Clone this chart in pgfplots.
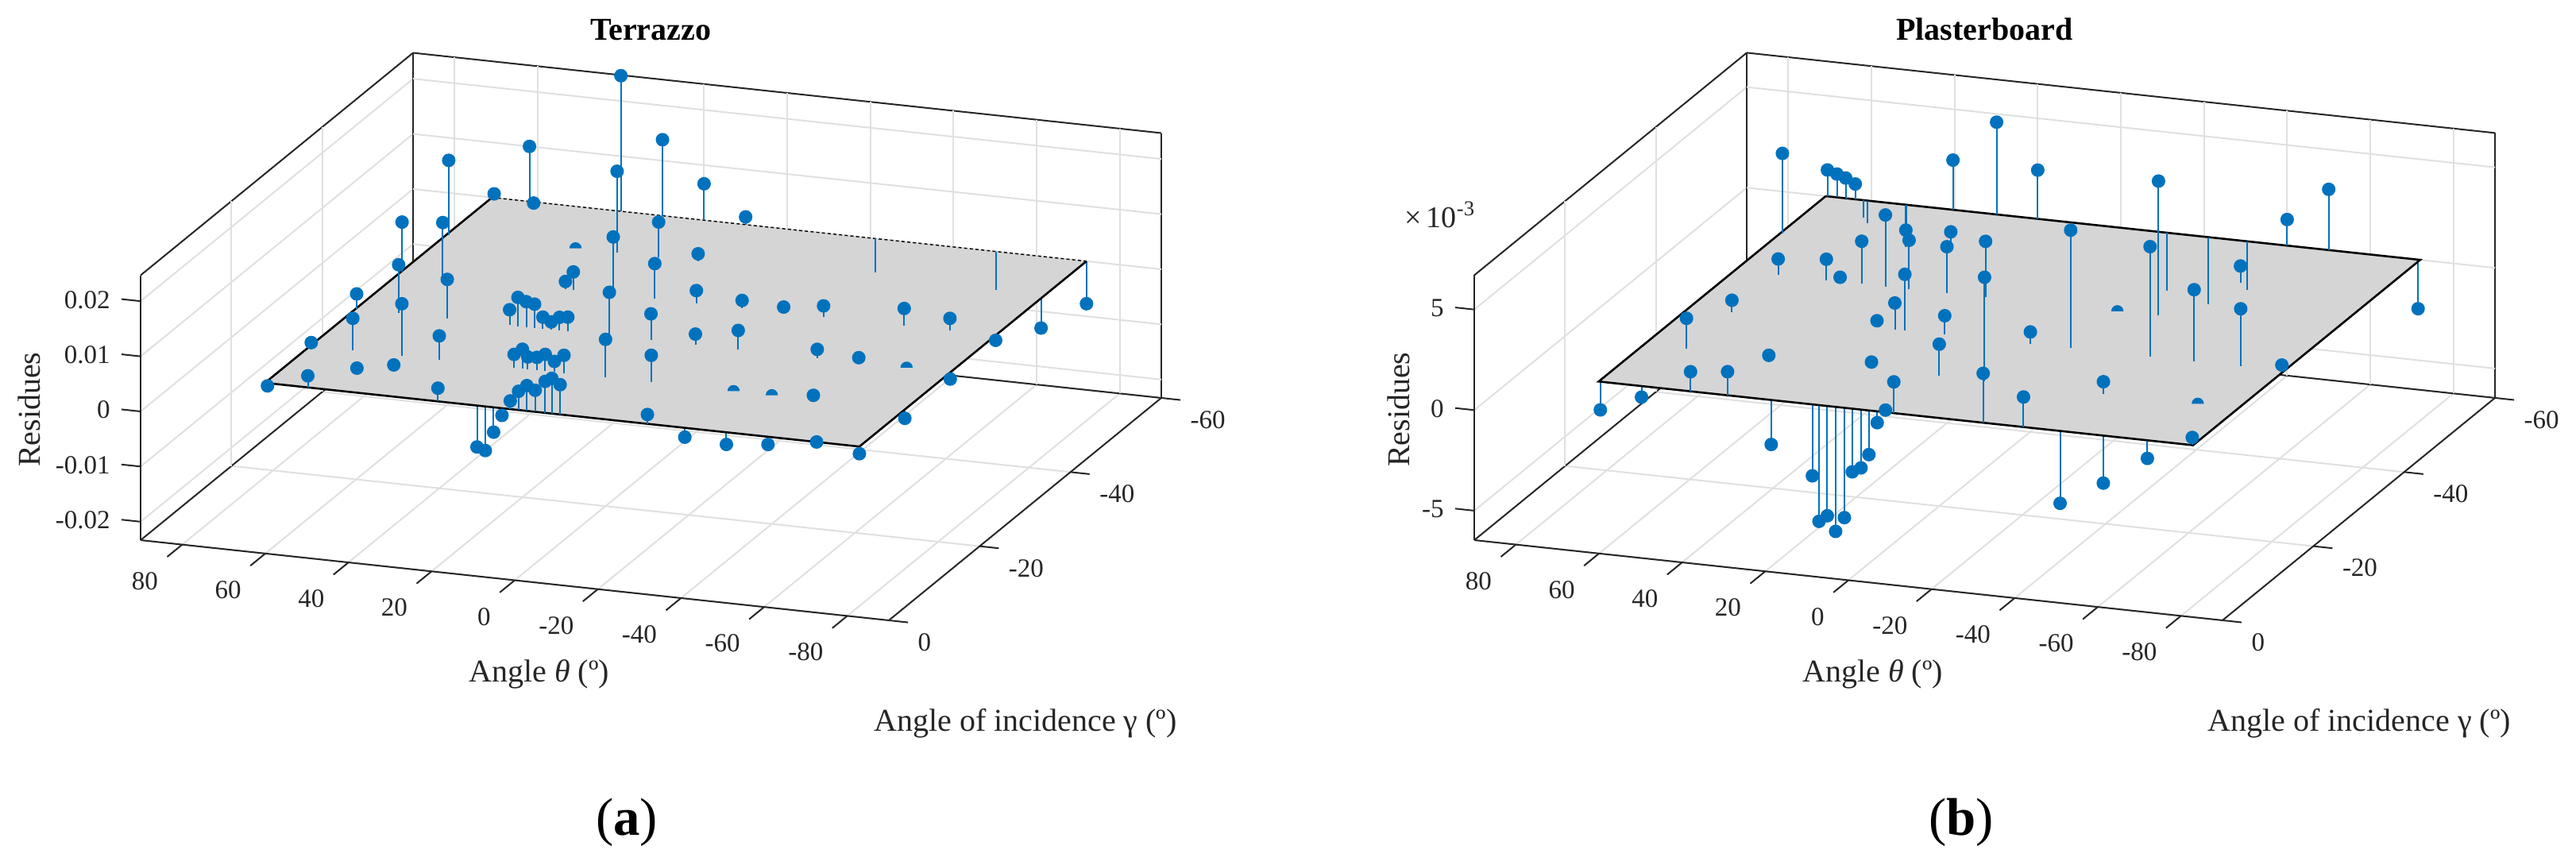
\documentclass[border=0pt]{standalone}
\usepackage{fontspec}
\setmainfont{Liberation Serif}
\usepackage{pgfplots}
\usepackage{pgfplotstable}
\pgfplotsset{compat=1.18}
\definecolor{stemblue}{HTML}{0072BD}
\definecolor{gridgray}{HTML}{E0E0E0}
\definecolor{planegray}{HTML}{D5D5D5}
\definecolor{boxgray}{HTML}{262626}
\pgfdeclareplotmark{tophalf}{%
  \pgfpathmoveto{\pgfqpoint{\pgfplotmarksize}{0pt}}%
  \pgfpatharc{0}{180}{\pgfplotmarksize}%
  \pgfpathclose\pgfusepathqfill}
% columns: theta gamma residue
\pgfplotstableread{
t g r
20 -10 -.0075
18 -10 -.0080
16 -10 -.0045
14 -10 -.0013
-72 -50 -.0054
-72 -60 -.0077
-72 -20 -.0016
-72 -10 -.0013
-50 -10 -.0014
-40 -10 -.0022
-30 -10 -.0017
61 -60 -.0002
}\aNeg
\pgfplotstableread{
t g r
70.4 -10 -.0005
70.8 -20 .0006
70.8 -30 .0027
70.8 -40 .0090
70.5 -50 .0135
70.5 -60 .0007
60.7 -10 .0021
60.8 -20 .0058
60.7 -30 .0088
61 -40 .0097
62 -60 .0100
55 -15.6 .0002
48 -17.3 .0002
49 -20 .0094
49 -30 .0071
40 -20 .0043
29.4 -10 .0024
34 -30 .0028
32 -30 .0052
30 -30 .0046
28 -30 .0043
26 -30 .0021
24 -30 .0014
22 -30 .0024
20 -30 .0026
22 -20 .0024
20 -20 .0035
18.7 -20 .0022
16.5 -20 .0023
14.5 -20 .0030
12.3 -20 .0019
10 -20 .0032
12 -10 .0015
10 -10 .0034
8 -10 .0046
6 -10 .0039
3.6 -10 .0057
2 -10 .0064
0 -10 .0054
29.6 -40 .0033
31.5 -40 .0014
40 -60 .0246
30 -50 .0148
20 -40 .0104
10 -30 .0079
0 -20 .0069
30 -60 .0138
20 -60 .0066
10 -60 .0014
20 -50 .0064
10.5 -50 .0014
10 -40 .0064
0 -40 .0023
-11 -40 .0014
-21 -40 .0010
-30.6 -40 .0020
-50 -40 .0031
-61 -40 .0022
-72 -40 -.0009
-72 -30 -.0012
0 -30 .0048
-11 -20 .0049
-10.7 -30 .0020
-21 -30 .0035
-40 -30 .0016
-50 -30 .0009
-50 -20 .0008
-21 -10 .0017
-61.7 -10 .0000
}\aPos
\pgfplotstableread{
t g r
40 -50 0
-61.5 -30 0
-30.8 -20 0
-40 -20 0
}\aHalf
\pgfplotstableread{
t g r
-21.2 -60 -.0061
-50.3 -60 -.0070
}\aStem
\pgfplotstableread{
t g r
70.6 -10 -.00141
60.7 -10 -.00055
29.5 -10 -.00221
4 -10 -.00056
6 -10 -.00219
7.9 -10 -.00290
10 -10 -.00314
11.9 -10 -.00546
14 -10 -.00619
16 -10 -.00547
18 -10 -.00578
19.6 -10 -.00356
-71.5 -60 -.00244
-61 -10 -.00090
-50.4 -10 -.00236
-40 -10 -.00360
}\bNeg
\pgfplotstableread{
t g r
48.9 -10 .00097
40 -10 .00117
41 -20 .00012
60.8 -20 .00153
60.8 -30 .00058
60.6 -40 .00079
70.5 -50 .00398
70.6 -60 .00131
68.3 -60 .00116
66.2 -60 .00100
63.9 -60 .00077
34.8 -40 .00355
40.5 -40 .00212
49 -40 .00104
45.7 -40 .00022
21.6 -30 .00131
25.9 -30 .00033
16.3 -20 .00033
0 -10 .00156
2 -10 .00011
40.8 -50 .00083
29.1 -40 .00243
19.2 -30 .00279
20 -40 .00231
9.6 -30 .00095
0 -20 .00159
40.4 -60 .00247
29.9 -60 .00460
20 -60 .00243
-30.9 -40 .00670
-50 -60 .00302
-40 -60 .00129
-20.7 -30 .00587
30 -50 .00098
10.7 -40 .00278
-10.9 -20 .00516
-21.5 -10 .00246
-11 -30 .00059
-39.5 -20 .00060
-31.2 -10 .00149
-50.4 -30 .00357
-61.6 -30 .00287
-39.8 -30 .00548
-39.7 -50 .00082
-71.5 -30 .00029
-71.8 -10 .00038
}\bPos
\pgfplotstableread{
t g r
-62.2 -20 0
-21 -40 0
}\bHalf
\pgfplotstableread{
t g r
62 -60 -.00088
61 -60 -.00111
51.7 -60 -.00126
-11 -60 -.00287
-21 -60 -.00335
-30.4 -60 -.00241
}\bStem
\pgfplotsset{
  resid/.style={
    disabledatascaling,
    anchor=origin, clip=false,
    x={(-1.30825pt,0.14025pt)}, y={(-1.42925pt,-1.16675pt)},
    xmin=-90, xmax=90, ymin=-60, ymax=0,
    xtick={-80,-60,...,80},
    xticklabels={-80,-60,-40,-20,0,20,40,60,80},
    ytick={-60,-40,-20,0},
    yticklabels={-60,-40,-20,0},
    scaled z ticks=false,
    grid=major,
    grid style={line width=0.5pt,gridgray},
    axis line style={line width=0.5pt,boxgray},
    tick style={draw=none},
    tick align=outside, major tick length=6pt,
    tick label style={font=\fontsize{8.25}{10}\selectfont,text=boxgray,inner sep=0pt},
    xticklabel style={anchor=east,xshift=-2.75pt,yshift=-7.65pt},
    yticklabel style={anchor=west,xshift=3pt,yshift=-6.25pt},
    zticklabel style={anchor=east,xshift=-4.75pt,yshift=4.25pt},
    label style={font=\fontsize{10}{12}\selectfont,text=boxgray},
    title style={font=\fontsize{10}{12}\selectfont\bfseries,anchor=center,yshift=-6pt},
  },
  stemline/.style={quiver={u=0,v=0,w=-\thisrow{r}},stemblue,line width=0.5pt,mark=none},
  dots/.style={only marks,stemblue,mark=*,mark size=1.93pt,
    mark options={solid,fill=stemblue,draw=none}},
  half/.style={only marks,stemblue,mark=tophalf,mark size=1.93pt,
    mark options={fill=stemblue,draw=none}},
  plane/.style={fill=planegray,draw=none,mark=none},
  edge/.style={black,line width=0.65pt,mark=none},
  tickline/.style={boxgray,line width=0.5pt,mark=none,unbounded coords=jump},
}
\newcommand{\stems}[1]{%
  \addplot3[stemline] table[x=t,y=g,z=r] {#1};
  \addplot3[dots] table[x=t,y=g,z=r] {#1};
}
% tick strokes on the floor edges, #1 = zmin
\newcommand{\floorticks}[1]{%
  \addplot3[tickline] coordinates {
    (-80,0,#1)(-80,3.3,#1) (nan,nan,nan) (-60,0,#1)(-60,3.3,#1) (nan,nan,nan)
    (-40,0,#1)(-40,3.3,#1) (nan,nan,nan) (-20,0,#1)(-20,3.3,#1) (nan,nan,nan)
    (0,0,#1)(0,3.3,#1) (nan,nan,nan) (20,0,#1)(20,3.3,#1) (nan,nan,nan)
    (40,0,#1)(40,3.3,#1) (nan,nan,nan) (60,0,#1)(60,3.3,#1) (nan,nan,nan)
    (80,0,#1)(80,3.3,#1)};
  \addplot3[tickline] coordinates {
    (-90,0,#1)(-94.6,0,#1) (nan,nan,nan) (-90,-20,#1)(-94.6,-20,#1) (nan,nan,nan)
    (-90,-40,#1)(-94.6,-40,#1) (nan,nan,nan) (-90,-60,#1)(-94.6,-60,#1)};
}
\begin{document}
\begin{tikzpicture}
\useasboundingbox (0,0) rectangle (810.75pt,272.25pt);
\begin{axis}[resid, at={(162pt,130.125pt)},
  z={(0pt,1735pt)},
  zmin=-0.02334, zmax=0.0247,
  ztick={-0.02,-0.01,0,0.01,0.02},
  zticklabels={-0.02,-0.01,0,0.01,0.02},
  title={Terrazzo},
  title style={at={(axis cs:-32.7,0,0.0792)}},
  xlabel={Angle \textit{θ} (º)},
  ylabel={Angle of incidence γ (º)},
  zlabel={Residues},
  xlabel style={at={(axis cs:-5.85,0,-0.03994)},anchor=center},
  ylabel style={at={(axis cs:-122.9,0,-0.03942)},anchor=center,rotate=0},
  zlabel style={at={(axis cs:116.75,0,-0.00183)},anchor=center,rotate=0},
]
\floorticks{-0.02334}
\addplot3[tickline] coordinates {(90,0,-.02)(94.6,0,-.02)
  (nan,nan,nan)(90,0,-.01)(94.6,0,-.01)
  (nan,nan,nan)(90,0,0)(94.6,0,0)
  (nan,nan,nan)(90,0,.01)(94.6,0,.01)
  (nan,nan,nan)(90,0,.02)(94.6,0,.02)};
\stems{\aNeg}
\addplot3[plane] coordinates {(71,-10,0) (-72,-10,0) (-72,-60,0) (71,-60,0)} --cycle;
\addplot3[edge] coordinates {(-72,-60,0) (-72,-10,0) (71,-10,0) (71,-60,0)};
\addplot3[black,line width=0.35pt,dash pattern=on 1pt off 0.8pt,mark=none] coordinates {(71,-60,0) (-72,-60,0)};
\addplot3[stemline] table[x=t,y=g,z=r] {\aStem};
\addplot3[half] table[x=t,y=g,z=r] {\aHalf};
\stems{\aPos}
\end{axis}
\begin{axis}[resid, at={(581.75pt,130.55pt)},
  z={(0pt,6325pt)},
  zmin=-0.00647, zmax=0.00671,
  ztick={-0.005,0,0.005},
  zticklabels={-5,0,5},
  title={Plasterboard},
  title style={at={(axis cs:-32.7,0,0.02166)}},
  xlabel={Angle \textit{θ} (º)},
  ylabel={Angle of incidence γ (º)},
  zlabel={Residues},
  xlabel style={at={(axis cs:-5.85,0,-0.01102)},anchor=center},
  ylabel style={at={(axis cs:-122.9,0,-0.01088)},anchor=center,rotate=0},
  zlabel style={at={(axis cs:108.2,0,-0.00038)},anchor=center,rotate=0},
]
\floorticks{-0.00647}
\addplot3[tickline] coordinates {(90,0,-.005)(94.6,0,-.005)
  (nan,nan,nan)(90,0,0)(94.6,0,0)
  (nan,nan,nan)(90,0,.005)(94.6,0,.005)};
\stems{\bNeg}
\addplot3[plane] coordinates {(71,-10,0) (-72,-10,0) (-72,-60,0) (71,-60,0)} --cycle;
\addplot3[edge] coordinates {(71,-60,0) (-72,-60,0) (-72,-10,0) (71,-10,0) (71,-60,0)};
\addplot3[stemline] table[x=t,y=g,z=r] {\bStem};
\addplot3[half] table[x=t,y=g,z=r] {\bHalf};
\stems{\bPos}
\node[font=\fontsize{9.5}{11}\selectfont,text=boxgray] at (axis cs:98.2,0,0.00955) {×\,10\textsuperscript{-3}};
\end{axis}
\node[font=\fontsize{16.7}{20}\selectfont] at (197.25pt,13.5pt) {(\textbf{a})};
\node[font=\fontsize{16.7}{20}\selectfont] at (617.25pt,13.5pt) {(\textbf{b})};
\end{tikzpicture}
\end{document}
